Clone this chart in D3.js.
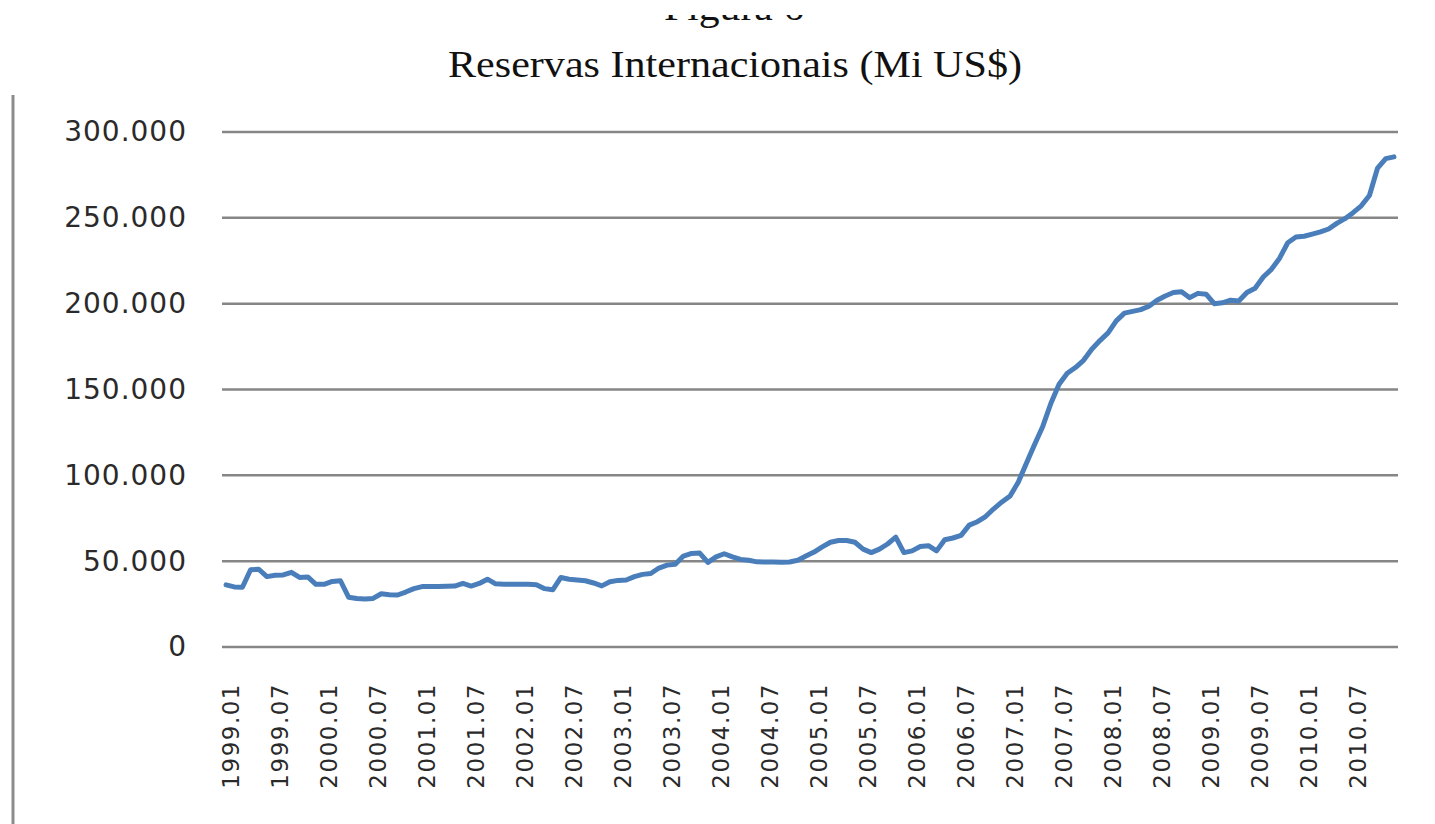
<!DOCTYPE html>
<html>
<head>
<meta charset="utf-8">
<script src="https://cdn.jsdelivr.net/npm/d3@7"></script>
<style>
  body { margin: 0; background: #fff; }
  svg { display: block; }
</style>
</head>
<body>
<svg id="chart" width="1435" height="824"></svg>
<script>
// Reservas internacionais, US$ milhões, mês a mês.
const years = [1999, 2000, 2001, 2002, 2003, 2004, 2005, 2006, 2007, 2008, 2009, 2010];
const reserves1999 = [36200, 35000, 34800, 45000, 45300, 41000, 41800, 42000, 43500, 40500, 40800, 36500];
const reserves2000 = [36500, 38200, 38600, 29000, 28200, 28000, 28300, 31000, 30500, 30300, 32000, 34000];
const reserves2001 = [35200, 35300, 35300, 35400, 35500, 37000, 35500, 37000, 39500, 36800, 36600, 36600];
const reserves2002 = [36500, 36500, 36300, 34000, 33300, 40500, 39500, 39000, 38600, 37300, 35600, 38000];
const reserves2003 = [38800, 39000, 41000, 42300, 42800, 46000, 47700, 48200, 53000, 54500, 54700, 49300];
const reserves2004 = [52500, 54300, 52500, 51000, 50500, 49600, 49500, 49500, 49400, 49500, 50500, 53000];
const reserves2005 = [55300, 58300, 61000, 62000, 62000, 61000, 57000, 55000, 57000, 60000, 64000, 55000];
const reserves2006 = [56000, 58500, 59000, 56000, 62500, 63500, 65000, 71000, 73000, 76000, 80500, 84500];
const reserves2007 = [88000, 96000, 107000, 118000, 128500, 142000, 153000, 159500, 162800, 167000, 173500, 178500];
const reserves2008 = [183000, 190000, 194500, 195500, 196500, 198500, 202000, 204500, 206500, 207000, 203500, 206000];
const reserves2009 = [205500, 200000, 200500, 202000, 201500, 206500, 209000, 215500, 220000, 226500, 235500, 238800];
const reserves2010 = [239300, 240500, 241800, 243500, 246800, 249500, 253000, 257000, 263000, 279000, 284500, 285500];
const yTicks = [0, 50000, 100000, 150000, 200000, 250000, 300000];

const reserves = [].concat(reserves1999, reserves2000, reserves2001, reserves2002, reserves2003,
  reserves2004, reserves2005, reserves2006, reserves2007, reserves2008, reserves2009, reserves2010);
const months = years.flatMap(y => d3.range(1, 13).map(m => `${y}.${String(m).padStart(2, '0')}`));
const data = months.map((label, i) => ({ label, value: reserves[i] }));

const width = 1435, height = 824;
const plot = { left: 222, right: 1398, top: 132, bottom: 647 };

const svg = d3.select('#chart');
svg.append('rect').attr('width', width).attr('height', height).attr('fill', '#fff');

// Pt-BR number format: 300.000
const fmt = d3.formatLocale({ decimal: ',', thousands: '.', grouping: [3], currency: ['R$', ''] }).format(',');

const x = d3.scaleBand().domain(months).range([plot.left, plot.right]);
const y = d3.scaleLinear().domain([0, 300000]).range([plot.bottom, plot.top]);
const cx = d => x(d) + x.bandwidth() / 2;

// Frame edge on the left.
svg.append('line')
  .attr('x1', 13).attr('x2', 13).attr('y1', 95).attr('y2', height)
  .attr('stroke', '#8c8c8c').attr('stroke-width', 3);

// Titles. The figure number is cropped in the source, only its bottom shows.
svg.append('clipPath').attr('id', 'crop')
  .append('rect').attr('x', 0).attr('y', 15).attr('width', width).attr('height', 30);
svg.append('text')
  .attr('clip-path', 'url(#crop)')
  .attr('x', 734).attr('y', 20)
  .attr('text-anchor', 'middle')
  .attr('font-family', '"Liberation Serif", serif').attr('font-size', 38)
  .attr('textLength', 140).attr('lengthAdjust', 'spacingAndGlyphs')
  .attr('fill', '#111')
  .text('Figura 6');
svg.append('text')
  .attr('x', 735).attr('y', 77)
  .attr('text-anchor', 'middle')
  .attr('font-family', '"Liberation Serif", serif').attr('font-size', 38)
  .attr('textLength', 574).attr('lengthAdjust', 'spacingAndGlyphs')
  .attr('fill', '#111')
  .text('Reservas Internacionais (Mi US$)');

// Gridlines (the zero line doubles as the category axis).
svg.append('g')
  .selectAll('line')
  .data(yTicks)
  .join('line')
  .attr('x1', plot.left).attr('x2', plot.right)
  .attr('y1', d => y(d)).attr('y2', d => y(d))
  .attr('stroke', '#868686').attr('stroke-width', 2.5);

// Y axis labels.
const yAxis = svg.append('g')
  .attr('transform', `translate(${plot.left - 35},0)`)
  .call(d3.axisLeft(y).tickValues(yTicks).tickSize(0).tickPadding(0).tickFormat(fmt));
yAxis.select('.domain').remove();
yAxis.selectAll('text')
  .attr('font-family', '"DejaVu Sans", sans-serif').attr('font-size', 28)
  .attr('fill', '#2a2a2a').attr('letter-spacing', 1);

// X axis labels every 6 months, rotated.
svg.append('g')
  .selectAll('text')
  .data(months.filter((m, i) => i % 6 === 0))
  .join('text')
  .attr('transform', d => `translate(${cx(d) + 5},683) rotate(-90)`)
  .attr('text-anchor', 'end')
  .attr('dy', '0.35em')
  .attr('font-family', '"DejaVu Sans", sans-serif').attr('font-size', 23)
  .attr('letter-spacing', 1.5)
  .attr('fill', '#2a2a2a')
  .text(d => d);

// Series line.
const line = d3.line()
  .x(d => cx(d.label))
  .y(d => y(d.value));

svg.append('path')
  .datum(data)
  .attr('fill', 'none')
  .attr('stroke', '#4a7ebb')
  .attr('stroke-width', 5)
  .attr('stroke-linejoin', 'round')
  .attr('stroke-linecap', 'round')
  .attr('d', line);
</script>
</body>
</html>
